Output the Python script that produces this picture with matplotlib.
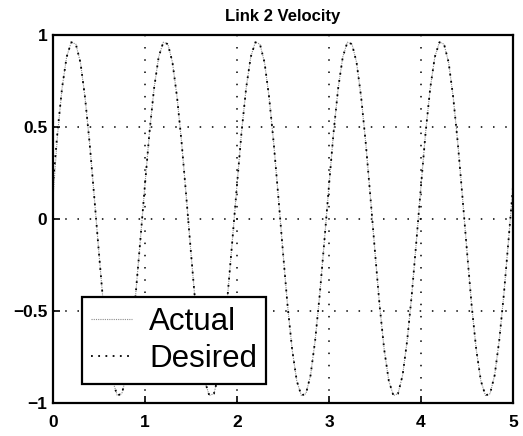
import numpy as np
import matplotlib
matplotlib.use("Agg")
import matplotlib.pyplot as plt

plt.rcParams['font.family'] = ['Liberation Sans', 'DejaVu Sans']

# time axis, 0.05 s steps
t = np.linspace(0, 5, 101)

# desired link 2 velocity (one row per second)
desired = [
    0.18, 0.47, 0.71, 0.88, 0.96, 0.95, 0.85, 0.66, 0.41, 0.12,
    -0.18, -0.47, -0.71, -0.88, -0.96, -0.95, -0.85, -0.66, -0.41, -0.12,
    0.18, 0.47, 0.71, 0.88, 0.96, 0.95, 0.85, 0.66, 0.41, 0.12,
    -0.18, -0.47, -0.71, -0.88, -0.96, -0.95, -0.85, -0.66, -0.41, -0.12,
    0.18, 0.47, 0.71, 0.88, 0.96, 0.95, 0.85, 0.66, 0.41, 0.12,
    -0.18, -0.47, -0.71, -0.88, -0.96, -0.95, -0.85, -0.66, -0.41, -0.12,
    0.18, 0.47, 0.71, 0.88, 0.96, 0.95, 0.85, 0.66, 0.41, 0.12,
    -0.18, -0.47, -0.71, -0.88, -0.96, -0.95, -0.85, -0.66, -0.41, -0.12,
    0.18, 0.47, 0.71, 0.88, 0.96, 0.95, 0.85, 0.66, 0.41, 0.12,
    -0.18, -0.47, -0.71, -0.88, -0.96, -0.95, -0.85, -0.66, -0.41, -0.12,
    0.18,
]

# actual response, practically on top of the desired one
actual = [
    0.10, 0.45, 0.71, 0.88, 0.96, 0.95, 0.85, 0.66, 0.41, 0.12,
    -0.18, -0.47, -0.71, -0.88, -0.96, -0.95, -0.85, -0.66, -0.41, -0.12,
    0.18, 0.47, 0.71, 0.88, 0.96, 0.95, 0.85, 0.66, 0.41, 0.12,
    -0.18, -0.47, -0.71, -0.88, -0.96, -0.95, -0.85, -0.66, -0.41, -0.12,
    0.18, 0.47, 0.71, 0.88, 0.96, 0.95, 0.85, 0.66, 0.41, 0.12,
    -0.18, -0.47, -0.71, -0.88, -0.96, -0.95, -0.85, -0.66, -0.41, -0.12,
    0.18, 0.47, 0.71, 0.88, 0.96, 0.95, 0.85, 0.66, 0.41, 0.12,
    -0.18, -0.47, -0.71, -0.88, -0.96, -0.95, -0.85, -0.66, -0.41, -0.12,
    0.18, 0.47, 0.71, 0.88, 0.96, 0.95, 0.85, 0.66, 0.41, 0.12,
    -0.18, -0.47, -0.71, -0.88, -0.96, -0.95, -0.85, -0.66, -0.41, -0.12,
    0.18,
]

xticks = [0, 1, 2, 3, 4, 5]
yticks = [-1, -0.5, 0, 0.5, 1]
ytick_labels = ["\u22121", "\u22120.5", "0", "0.5", "1"]

fig = plt.figure(figsize=(5.23, 4.36), dpi=100)
ax = fig.add_axes([0.101, 0.076, 0.88, 0.844])

ax.plot(t, actual, color='0.55', linestyle=(0, (1, 1)), linewidth=0.8, label='Actual')
ax.plot(t, desired, color='black', linestyle=(0, (1, 3)), linewidth=1.3, label='Desired')

ax.set_xlim(0, 5)
ax.set_ylim(-1, 1)
ax.set_xticks(xticks)
ax.set_xticklabels([str(v) for v in xticks])
ax.set_yticks(yticks)
ax.set_yticklabels(ytick_labels)
ax.tick_params(direction='in', length=5, width=1.2, labelsize=12.5)
ax.tick_params(axis='x', pad=9)
ax.tick_params(axis='y', pad=4)
for lab in ax.get_xticklabels() + ax.get_yticklabels():
    lab.set_fontweight('bold')
for s in ax.spines.values():
    s.set_linewidth(1.6)

ax.grid(True, color='black', linestyle=(0, (1, 7)), linewidth=1.1)
ax.set_title("Link 2 Velocity", fontsize=12, fontweight='bold', pad=10)

leg = ax.legend(loc='lower left', bbox_to_anchor=(0.063, 0.052), borderaxespad=0,
                fontsize=22.5, fancybox=False, framealpha=1, edgecolor='black',
                handlelength=1.3, handletextpad=0.55, borderpad=0.3, labelspacing=0.25)
leg.get_frame().set_linewidth(1.6)

fig.savefig("out.png", dpi=100)
